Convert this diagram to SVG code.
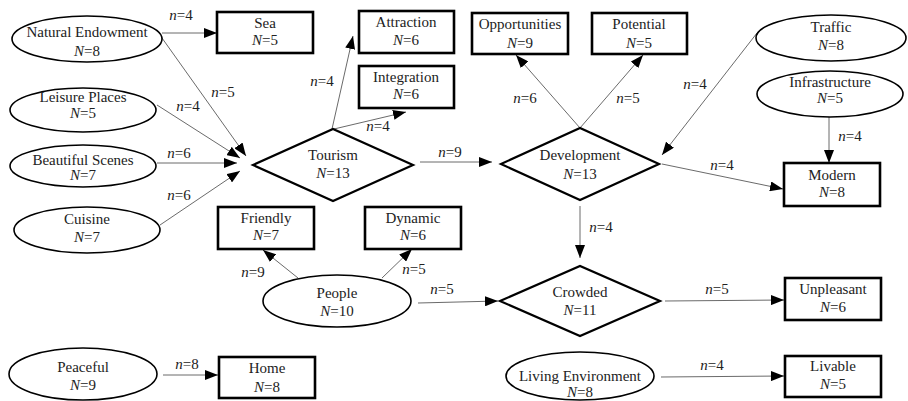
<svg xmlns="http://www.w3.org/2000/svg" width="908" height="401" viewBox="0 0 908 401" font-family="'Liberation Serif', 'Times New Roman', serif">
<defs>
<marker id="ah" markerUnits="userSpaceOnUse" markerWidth="13" markerHeight="10" refX="13" refY="5" orient="auto">
<path d="M0,0 L13,5 L0,10 z" fill="#000"/>
</marker>
<style>
text{font-family:'Liberation Serif','Times New Roman',serif;font-size:15px;fill:#222;text-anchor:middle}
.i{font-style:italic}
.box{fill:#fff;stroke:#000;stroke-width:2.6}
.ell{fill:#fff;stroke:#000;stroke-width:1.6}
.dia{fill:#fff;stroke:#000;stroke-width:2.2}
.c line{stroke:#444;stroke-width:0.8;marker-end:url(#ah)}
</style>
</defs>
<rect width="908" height="401" fill="#fff"/>

<g id="connectors" class="c">
<line x1="162" y1="33" x2="217" y2="33"/>
<line x1="162" y1="38" x2="246" y2="156"/>
<line x1="157" y1="105" x2="240" y2="158"/>
<line x1="157" y1="163" x2="237" y2="163"/>
<line x1="160" y1="225" x2="240" y2="171"/>
<line x1="332" y1="129" x2="353" y2="36"/>
<line x1="334" y1="129" x2="406" y2="112"/>
<line x1="420" y1="162" x2="492" y2="162"/>
<line x1="580" y1="128" x2="516" y2="55"/>
<line x1="580" y1="128" x2="643" y2="55"/>
<line x1="757" y1="33" x2="662" y2="155"/>
<line x1="829" y1="117" x2="829" y2="163"/>
<line x1="662" y1="164" x2="783" y2="189"/>
<line x1="580" y1="206" x2="580" y2="258"/>
<line x1="298" y1="278" x2="263" y2="250"/>
<line x1="382" y1="278" x2="412" y2="249"/>
<line x1="418" y1="303" x2="498" y2="301"/>
<line x1="665" y1="301" x2="784" y2="300"/>
<line x1="661" y1="377" x2="784" y2="376"/>
<line x1="163" y1="375" x2="218" y2="375"/>
</g>

<g id="labels">
<text x="181" y="20"><tspan class="i">n</tspan>=4</text>
<text x="223" y="97"><tspan class="i">n</tspan>=5</text>
<text x="188" y="111"><tspan class="i">n</tspan>=4</text>
<text x="179" y="158"><tspan class="i">n</tspan>=6</text>
<text x="179" y="200"><tspan class="i">n</tspan>=6</text>
<text x="322" y="86"><tspan class="i">n</tspan>=4</text>
<text x="378" y="131"><tspan class="i">n</tspan>=4</text>
<text x="450" y="157"><tspan class="i">n</tspan>=9</text>
<text x="525" y="103"><tspan class="i">n</tspan>=6</text>
<text x="628" y="103"><tspan class="i">n</tspan>=5</text>
<text x="695" y="89"><tspan class="i">n</tspan>=4</text>
<text x="850" y="141"><tspan class="i">n</tspan>=4</text>
<text x="722" y="170"><tspan class="i">n</tspan>=4</text>
<text x="601" y="232"><tspan class="i">n</tspan>=4</text>
<text x="253" y="277"><tspan class="i">n</tspan>=9</text>
<text x="414" y="274"><tspan class="i">n</tspan>=5</text>
<text x="442" y="294"><tspan class="i">n</tspan>=5</text>
<text x="717" y="294"><tspan class="i">n</tspan>=5</text>
<text x="712" y="370"><tspan class="i">n</tspan>=4</text>
<text x="187" y="369"><tspan class="i">n</tspan>=8</text>
</g>

<g id="natural-endowment"><ellipse class="ell" cx="87" cy="39" rx="75" ry="23"/><text x="87" y="37">Natural Endowment</text><text x="87" y="56"><tspan class="i">N</tspan>=8</text></g>
<g id="leisure-places"><ellipse class="ell" cx="83" cy="110" rx="73" ry="22"/><text x="83" y="102">Leisure Places</text><text x="83" y="118"><tspan class="i">N</tspan>=5</text></g>
<g id="beautiful-scenes"><ellipse class="ell" cx="83" cy="166" rx="73" ry="21"/><text x="83" y="165">Beautiful Scenes</text><text x="83" y="180"><tspan class="i">N</tspan>=7</text></g>
<g id="cuisine"><ellipse class="ell" cx="87" cy="230" rx="73" ry="23"/><text x="87" y="224">Cuisine</text><text x="87" y="242"><tspan class="i">N</tspan>=7</text></g>
<g id="traffic"><ellipse class="ell" cx="831" cy="38" rx="75" ry="23"/><text x="831" y="32">Traffic</text><text x="831" y="50"><tspan class="i">N</tspan>=8</text></g>
<g id="infrastructure"><ellipse class="ell" cx="830" cy="94" rx="73" ry="23"/><text x="830" y="87">Infrastructure</text><text x="830" y="103"><tspan class="i">N</tspan>=5</text></g>
<g id="people"><ellipse class="ell" cx="337" cy="301" rx="74" ry="26"/><text x="337" y="298">People</text><text x="337" y="316"><tspan class="i">N</tspan>=10</text></g>
<g id="peaceful"><ellipse class="ell" cx="83" cy="374" rx="74" ry="26"/><text x="83" y="372">Peaceful</text><text x="83" y="390"><tspan class="i">N</tspan>=9</text></g>
<g id="living-environment"><ellipse class="ell" cx="580" cy="376" rx="74" ry="24"/><text x="580" y="381">Living Environment</text><text x="580" y="397"><tspan class="i">N</tspan>=8</text></g>

<g id="sea"><rect class="box" x="217" y="12" width="96" height="41"/><text x="265" y="28">Sea</text><text x="265" y="45"><tspan class="i">N</tspan>=5</text></g>
<g id="attraction"><rect class="box" x="359" y="11" width="95" height="42"/><text x="406" y="27">Attraction</text><text x="406" y="45"><tspan class="i">N</tspan>=6</text></g>
<g id="integration"><rect class="box" x="359" y="66" width="95" height="42"/><text x="406" y="82">Integration</text><text x="406" y="99"><tspan class="i">N</tspan>=6</text></g>
<g id="opportunities"><rect class="box" x="472" y="13" width="96" height="41"/><text x="520" y="29">Opportunities</text><text x="520" y="48"><tspan class="i">N</tspan>=9</text></g>
<g id="potential"><rect class="box" x="592" y="13" width="95" height="41"/><text x="639" y="29">Potential</text><text x="639" y="48"><tspan class="i">N</tspan>=5</text></g>
<g id="modern"><rect class="box" x="784" y="163" width="96" height="43"/><text x="832" y="180">Modern</text><text x="832" y="197"><tspan class="i">N</tspan>=8</text></g>
<g id="friendly"><rect class="box" x="218" y="207" width="96" height="42"/><text x="266" y="223">Friendly</text><text x="266" y="240"><tspan class="i">N</tspan>=7</text></g>
<g id="dynamic"><rect class="box" x="365" y="207" width="96" height="42"/><text x="413" y="223">Dynamic</text><text x="413" y="240"><tspan class="i">N</tspan>=6</text></g>
<g id="unpleasant"><rect class="box" x="785" y="278" width="96" height="42"/><text x="833" y="294">Unpleasant</text><text x="833" y="312"><tspan class="i">N</tspan>=6</text></g>
<g id="livable"><rect class="box" x="785" y="356" width="96" height="41"/><text x="833" y="371">Livable</text><text x="833" y="389"><tspan class="i">N</tspan>=5</text></g>
<g id="home"><rect class="box" x="219" y="357" width="96" height="41"/><text x="267" y="373">Home</text><text x="267" y="392"><tspan class="i">N</tspan>=8</text></g>

<g id="tourism"><polygon class="dia" points="253,165 333,129 413,165 333,201"/><text x="333" y="160">Tourism</text><text x="333" y="178"><tspan class="i">N</tspan>=13</text></g>
<g id="development"><polygon class="dia" points="501,164 580,128 659,164 580,200"/><text x="580" y="160">Development</text><text x="580" y="179"><tspan class="i">N</tspan>=13</text></g>
<g id="crowded"><polygon class="dia" points="500,301 580,266 660,301 580,336"/><text x="580" y="297">Crowded</text><text x="580" y="315"><tspan class="i">N</tspan>=11</text></g>
</svg>
